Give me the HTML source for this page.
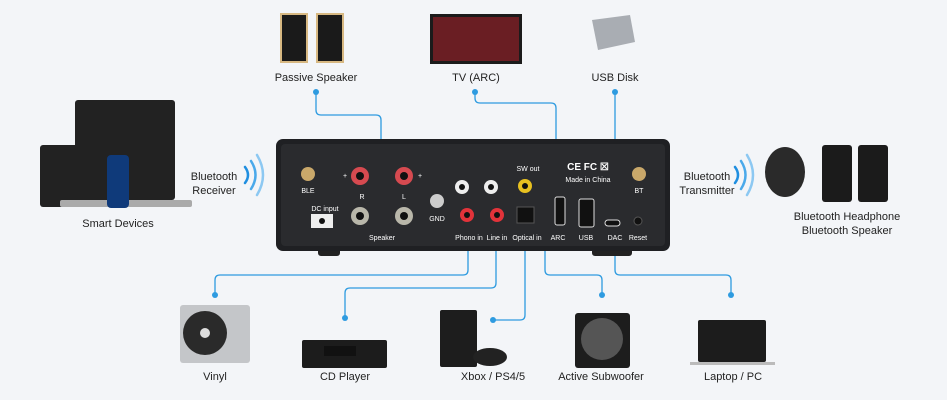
<!DOCTYPE html>
<html><head><style>
body{margin:0;background:#f3f5f8;}
svg{display:block;font-family:"Liberation Sans",sans-serif;}
</style></head><body>
<svg width="947" height="400" viewBox="0 0 947 400">
<rect width="947" height="400" fill="#f3f5f8"/>
<g fill="none" stroke="#2e9be0" stroke-width="1.3">
<path d="M316,92 V110 Q316,115 321,115 H376 Q381,115 381,120 V198"/>
<path d="M475,92 V98 Q475,103 480,103 H551 Q556,103 556,108 V200"/>
<path d="M615,92 V205 Q615,210 610,210 H593"/>
<path d="M468,237 V270 Q468,275 463,275 H220 Q215,275 215,280 V295"/>
<path d="M496,237 V283 Q496,288 491,288 H350 Q345,288 345,293 V318"/>
<path d="M525,200 V315 Q525,320 520,320 H493"/>
<path d="M532,186 H540 Q545,186 545,191 V270 Q545,275 550,275 H597 Q602,275 602,280 V295"/>
<path d="M615,237 V270 Q615,275 620,275 H726 Q731,275 731,280 V295"/>
</g>
<g fill="#2e9be0">
<circle cx="316" cy="92" r="3"/><circle cx="475" cy="92" r="3"/><circle cx="615" cy="92" r="3"/>
<circle cx="215" cy="295" r="3"/><circle cx="345" cy="318" r="3"/><circle cx="493" cy="320" r="3"/>
<circle cx="602" cy="295" r="3"/><circle cx="731" cy="295" r="3"/>
</g>
<!-- device -->
<rect x="318" y="248" width="22" height="8" rx="3" fill="#222"/>
<rect x="592" y="248" width="40" height="8" rx="3" fill="#222"/>
<rect x="276" y="139" width="394" height="112" rx="7" fill="#1f2023"/>
<rect x="281" y="144" width="384" height="102" rx="4" fill="#2a2b2e"/>
<g font-size="7" fill="#fff" text-anchor="middle">
<circle cx="308" cy="174" r="7" fill="#c9a86a"/><text x="308" y="193">BLE</text>
<circle cx="639" cy="174" r="7" fill="#c9a86a"/><text x="639" y="193">BT</text>
<circle cx="360" cy="176" r="9" fill="#d64a50"/><circle cx="360" cy="176" r="4" fill="#111"/>
<circle cx="404" cy="176" r="9" fill="#d64a50"/><circle cx="404" cy="176" r="4" fill="#111"/>
<circle cx="360" cy="216" r="9" fill="#b9b7aa"/><circle cx="360" cy="216" r="4" fill="#111"/>
<circle cx="404" cy="216" r="9" fill="#b9b7aa"/><circle cx="404" cy="216" r="4" fill="#111"/>
<text x="362" y="199">R</text><text x="404" y="199">L</text><text x="382" y="240">Speaker</text>
<text x="345" y="178">+</text><text x="420" y="178">+</text>
<text x="325" y="211">DC input</text><rect x="311" y="214" width="22" height="14" fill="#eee"/><circle cx="322" cy="221" r="3" fill="#111"/>
<circle cx="437" cy="201" r="7" fill="#ccc"/><text x="437" y="221">GND</text>
<circle cx="462" cy="187" r="7" fill="#eee"/><circle cx="462" cy="187" r="3" fill="#111"/>
<circle cx="491" cy="187" r="7" fill="#eee"/><circle cx="491" cy="187" r="3" fill="#111"/>
<circle cx="467" cy="215" r="7" fill="#e2333a"/><circle cx="467" cy="215" r="3" fill="#111"/>
<circle cx="497" cy="215" r="7" fill="#e2333a"/><circle cx="497" cy="215" r="3" fill="#111"/>
<circle cx="525" cy="186" r="7" fill="#e8c120"/><circle cx="525" cy="186" r="3" fill="#111"/>
<text x="528" y="171">SW out</text>
<rect x="517" y="207" width="17" height="16" fill="#111" stroke="#555"/>
<text x="469" y="240">Phono in</text><text x="497" y="240">Line in</text><text x="527" y="240">Optical in</text>
<rect x="555" y="197" width="10" height="28" rx="2" fill="#111" stroke="#ddd"/><text x="558" y="240">ARC</text>
<rect x="579" y="199" width="15" height="28" rx="2" fill="#111" stroke="#ddd"/><text x="586" y="240">USB</text>
<rect x="605" y="220" width="15" height="6" rx="3" fill="#111" stroke="#ddd"/><text x="615" y="240">DAC</text>
<circle cx="638" cy="221" r="4" fill="#111" stroke="#555"/><text x="638" y="240">Reset</text>
<text x="588" y="170" font-size="10" font-weight="bold">CE FC ☒</text><text x="588" y="182">Made in China</text>
</g>
<!-- wifi arcs -->
<g fill="none" stroke-width="2.5" stroke-linecap="round">
<path d="M245,167 Q251,175 245,183" stroke="#1e8ee0"/><path d="M251,161 Q260,175 251,189" stroke="#4aa9ea"/><path d="M257,155 Q269,175 257,195" stroke="#8cc8f2"/>
<path d="M735,167 Q741,175 735,183" stroke="#1e8ee0"/><path d="M741,161 Q750,175 741,189" stroke="#4aa9ea"/><path d="M747,155 Q759,175 747,195" stroke="#8cc8f2"/>
</g>
<!-- products -->
<rect x="280" y="13" width="28" height="50" fill="#d7b882"/><rect x="316" y="13" width="28" height="50" fill="#d7b882"/>
<rect x="282" y="15" width="24" height="46" fill="#1a1a1a"/><rect x="318" y="15" width="24" height="46" fill="#1a1a1a"/>
<rect x="430" y="14" width="92" height="50" fill="#1b1b1b"/><rect x="433" y="17" width="86" height="44" fill="#6a1e23"/>
<path d="M592,20 L630,15 L635,42 L598,50 Z" fill="#a9adb3"/>
<rect x="75" y="100" width="100" height="100" rx="3" fill="#222"/><rect x="40" y="145" width="82" height="62" rx="3" fill="#222"/><rect x="60" y="200" width="132" height="7" rx="2" fill="#aaa"/>
<rect x="107" y="155" width="22" height="53" rx="4" fill="#0f3a7a"/>
<ellipse cx="785" cy="172" rx="20" ry="25" fill="#2a2a2a"/>
<rect x="822" y="145" width="30" height="57" rx="3" fill="#1b1b1b"/><rect x="858" y="145" width="30" height="57" rx="3" fill="#1b1b1b"/>
<rect x="180" y="305" width="70" height="58" rx="3" fill="#c4c6c9"/><circle cx="205" cy="333" r="22" fill="#2a2a2a"/><circle cx="205" cy="333" r="5" fill="#ddd"/>
<rect x="302" y="340" width="85" height="28" rx="2" fill="#1c1c1c"/><rect x="324" y="346" width="32" height="10" fill="#111"/>
<rect x="440" y="310" width="37" height="57" rx="2" fill="#1d1d1d"/><ellipse cx="490" cy="357" rx="17" ry="9" fill="#222"/>
<rect x="575" y="313" width="55" height="55" rx="3" fill="#1d1d1d"/><circle cx="602" cy="339" r="21" fill="#555"/>
<rect x="698" y="320" width="68" height="42" rx="2" fill="#1c1c1c"/><rect x="690" y="362" width="85" height="3" fill="#bbb"/>
<g font-size="11" fill="#222" text-anchor="middle">
<text x="316" y="81">Passive Speaker</text><text x="476" y="81">TV (ARC)</text><text x="615" y="81">USB Disk</text>
<text x="118" y="227">Smart Devices</text>
<text x="214" y="180">Bluetooth</text><text x="214" y="194">Receiver</text>
<text x="707" y="180">Bluetooth</text><text x="707" y="194">Transmitter</text>
<text x="847" y="220">Bluetooth Headphone</text><text x="847" y="234">Bluetooth Speaker</text>
<text x="215" y="380">Vinyl</text><text x="345" y="380">CD Player</text><text x="493" y="380">Xbox / PS4/5</text>
<text x="601" y="380">Active Subwoofer</text><text x="733" y="380">Laptop / PC</text>
</g>
</svg>
</body></html>
